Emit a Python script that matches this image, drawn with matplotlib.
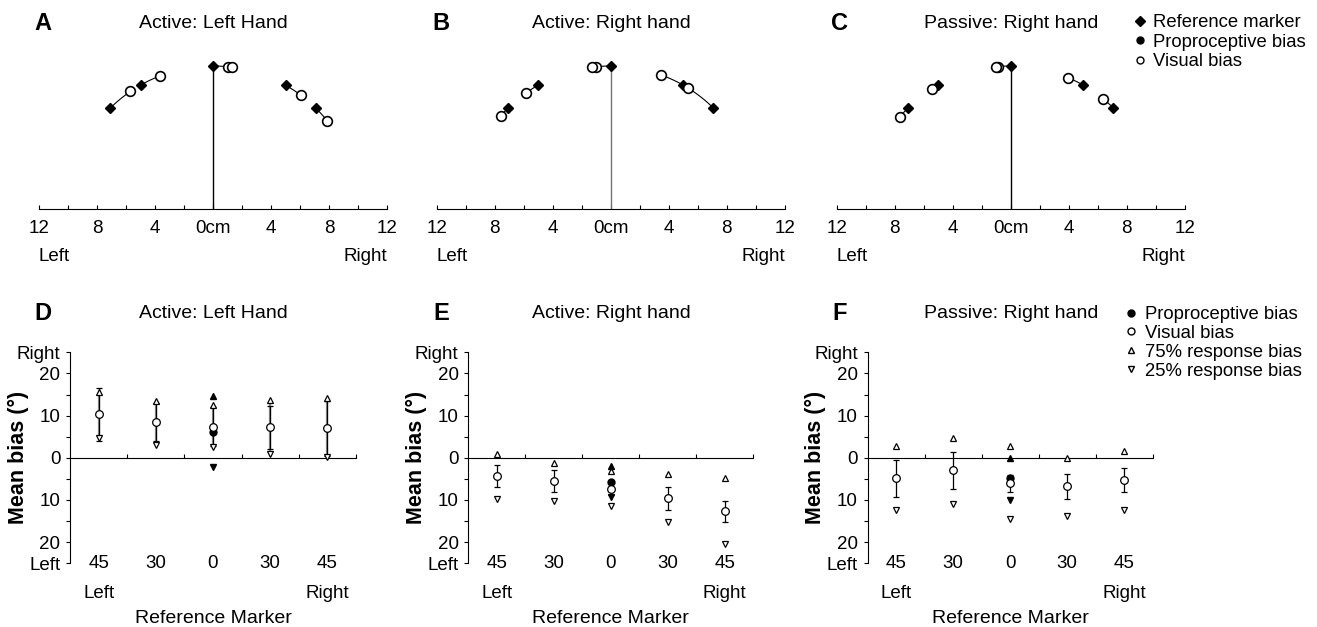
import numpy as np
import matplotlib
matplotlib.use('Agg')
import matplotlib.pyplot as plt
from matplotlib.lines import Line2D
from matplotlib.ticker import FixedLocator

plt.rcParams['font.family'] = ['Liberation Sans', 'DejaVu Sans']

# reference markers: angle from straight ahead (deg, negative = left)
marker_angle = [-45, -30, 0, 30, 45]
marker_label = ['45', '30', '0', '30', '45']
radius_cm = 10

panel_titles = ['Active: Left Hand', 'Active: Right hand', 'Passive: Right hand']

# active, left hand (deg, positive = right)
al_visual = [10.3, 8.4, 7.4, 7.2, 7.0]
al_visual_err = [6.3, 4.5, 4.6, 5.1, 6.5]
al_q75 = [15.7, 13.5, 12.4, 13.7, 14.1]
al_q25 = [4.8, 3.0, 2.5, 0.8, 0.2]
al_prop, al_prop_q75, al_prop_q25 = 6.0, 14.7, -2.2

# active, right hand
ar_visual = [-4.4, -5.5, -7.3, -9.6, -12.7]
ar_visual_err = [2.6, 2.5, 1.6, 2.7, 2.4]
ar_q75 = [1.0, -1.2, -3.1, -3.9, -4.9]
ar_q25 = [-9.7, -10.3, -11.4, -15.1, -20.5]
ar_prop, ar_prop_q75, ar_prop_q25 = -5.7, -2.0, -9.2

# passive, right hand
pr_visual = [-4.9, -3.0, -6.0, -6.8, -5.3]
pr_visual_err = [4.4, 4.4, 2.0, 3.0, 2.9]
pr_q75 = [2.7, 4.7, 2.7, 0.0, 1.6]
pr_q25 = [-12.4, -11.0, -14.5, -13.7, -12.4]
pr_prop, pr_prop_q75, pr_prop_q25 = -4.9, 0.0, -10.0

conditions = [
    (al_visual, al_visual_err, al_q75, al_q25, al_prop, al_prop_q75, al_prop_q25),
    (ar_visual, ar_visual_err, ar_q75, ar_q25, ar_prop, ar_prop_q75, ar_prop_q25),
    (pr_visual, pr_visual_err, pr_q75, pr_q25, pr_prop, pr_prop_q75, pr_prop_q25),
]

W, H = 1317, 627
fig = plt.figure(figsize=(W / 100, H / 100), dpi=100)


def px_axes(left, top, width, height):
    return fig.add_axes([left / W, (H - top - height) / H, width / W, height / H])


def on_circle(angle_deg):
    a = np.radians(angle_deg)
    return radius_cm * np.sin(a), radius_cm * np.cos(a)


def draw_top(ax, visual, prop, stem_color):
    centre = marker_angle.index(0)
    ax.vlines(0, 0, radius_cm, color=stem_color, lw=1)
    vis_angle = np.add(marker_angle, visual)
    # short arcs from each marker to the perceived position
    for a0, a1 in zip(marker_angle, vis_angle):
        ax.plot(*on_circle(np.linspace(a0, a1, 20)), color='k', lw=0.8, zorder=2)
    mx, my = on_circle(np.array(marker_angle))
    ax.plot(mx, my, 'D', color='k', ms=5, zorder=3)
    px_, py_ = on_circle(marker_angle[centre] + prop)
    ax.plot(px_, py_, 'o', mfc='white', mec='k', ms=7, mew=1.2, zorder=4)
    vx, vy = on_circle(vis_angle)
    ax.plot(vx, vy, 'o', mfc='white', mec='k', ms=7, mew=1.2, zorder=5)

    ax.set_xlim(-12, 12)
    ax.set_ylim(0, 11)
    for s in ['left', 'right', 'top']:
        ax.spines[s].set_visible(False)
    ax.set_yticks([])
    ax.set_xticks([-12, -8, -4, 0, 4, 8, 12])
    ax.set_xticklabels(['12', '8', '4', '0cm', '4', '8', '12'])
    ax.xaxis.set_minor_locator(FixedLocator(np.arange(-12, 13, 2)))
    ax.tick_params(axis='x', which='both', direction='in', length=3, width=0.8,
                   labelsize=13.5, pad=8)
    ax.text(0, -0.33, 'Left', transform=ax.transAxes, ha='left', va='baseline', fontsize=13.5)
    ax.text(1, -0.33, 'Right', transform=ax.transAxes, ha='right', va='baseline', fontsize=13.5)


def draw_bottom(ax, visual, err, q75, q25, prop, prop_q75, prop_q25, range_lines):
    x = np.arange(len(marker_angle))
    c = marker_angle.index(0)
    if range_lines:
        ax.vlines(x, q25, q75, color='0.55', lw=1.6, zorder=1)
    ax.errorbar(x, visual, yerr=err, fmt='none', ecolor='k', elinewidth=0.9,
                capsize=2.5, capthick=0.9, zorder=2)
    ax.plot(x, q75, '^', mfc='white', mec='k', ms=5, mew=0.9, zorder=3)
    ax.plot(x, q25, 'v', mfc='white', mec='k', ms=5, mew=0.9, zorder=3)
    ax.plot(x[c], prop_q75, '^', color='k', ms=5, zorder=3)
    ax.plot(x[c], prop_q25, 'v', color='k', ms=5, zorder=3)
    ax.plot(x[c], prop, 'o', color='k', ms=5, zorder=4)
    ax.plot(x, visual, 'o', mfc='white', mec='k', ms=5.5, mew=0.9, zorder=5)

    ax.set_xlim(-0.5, 4.5)
    ax.set_ylim(-25, 25)
    ax.spines['top'].set_visible(False)
    ax.spines['right'].set_visible(False)
    ax.spines['bottom'].set_position(('data', 0))
    ax.set_xticks(x + 0.5)
    ax.set_xticklabels([])
    ax.tick_params(axis='x', direction='in', length=3, width=0.8)
    ax.set_yticks([-25, -20, -10, 0, 10, 20, 25])
    ax.set_yticklabels(['Left', '20', '10', '0', '10', '20', 'Right'])
    ax.yaxis.set_minor_locator(FixedLocator([-15, -5, 5, 15]))
    ax.tick_params(axis='y', which='both', direction='out', length=3, width=0.8,
                   labelsize=13.5, pad=4)
    xt = ax.get_xaxis_transform()
    for xi, lab in zip(x, marker_label):
        ax.text(xi, -0.024, lab, transform=xt, ha='center', va='baseline', fontsize=13.5)
    ax.text(x[0], -0.166, 'Left', transform=xt, ha='center', va='baseline', fontsize=13.5)
    ax.text(x[-1], -0.166, 'Right', transform=xt, ha='center', va='baseline', fontsize=13.5)
    ax.text(0.5, -0.284, 'Reference Marker', transform=ax.transAxes, ha='center',
            va='baseline', fontsize=14)
    ax.set_ylabel('Mean bias (°)', fontsize=15.5, fontweight='bold')
    ax.yaxis.set_label_coords(-0.145, 0.5)


top_left = [39, 436.7, 836.7]
bottom_left = [70, 468.3, 867.7]
stem_colors = ['k', '0.45', 'k']
letters_top = ['A', 'B', 'C']
letters_bottom = ['D', 'E', 'F']
letter_x = [42.5, 441, 840]
title_x = [213.5, 611.3, 1010.8]

for i, cond in enumerate(conditions):
    visual, err, q75, q25, prop, prop_q75, prop_q25 = cond
    ax_t = px_axes(top_left[i], 51.7, 348, 157.3)
    draw_top(ax_t, visual, prop, stem_colors[i])
    ax_b = px_axes(bottom_left[i], 352.3, 286 if i == 0 else 285, 211)
    draw_bottom(ax_b, visual, err, q75, q25, prop, prop_q75, prop_q25, range_lines=(i == 0))

    fig.text(letter_x[i] / W, 1 - 24 / H, letters_top[i], ha='center', va='center',
             fontsize=17, fontweight='bold')
    fig.text(letter_x[i] / W, 1 - 314 / H, letters_bottom[i], ha='center', va='center',
             fontsize=17, fontweight='bold')
    fig.text(title_x[i] / W, 1 - 23 / H, panel_titles[i], ha='center', va='center', fontsize=14)
    fig.text(title_x[i] / W, 1 - 314 / H, panel_titles[i], ha='center', va='center', fontsize=14)

# legends
h_ref = Line2D([], [], ls='none', marker='D', color='k', ms=5)
h_prop = Line2D([], [], ls='none', marker='o', color='k', ms=5)
h_vis = Line2D([], [], ls='none', marker='o', mfc='white', mec='k', ms=5)
h_q75 = Line2D([], [], ls='none', marker='^', mfc='white', mec='k', ms=5)
h_q25 = Line2D([], [], ls='none', marker='v', mfc='white', mec='k', ms=5)

fig.legend([h_ref, h_prop, h_vis], ['Reference marker', 'Proproceptive bias', 'Visual bias'],
           loc='upper left', bbox_to_anchor=(1133 / W, 1 - 14 / H), frameon=False,
           fontsize=13.3, handlelength=0.8, handletextpad=0.3, borderpad=0,
           borderaxespad=0, labelspacing=0.14, numpoints=1)
fig.legend([h_prop, h_vis, h_q75, h_q25],
           ['Proproceptive bias', 'Visual bias', '75% response bias', '25% response bias'],
           loc='upper left', bbox_to_anchor=(1124 / W, 1 - 306 / H), frameon=False,
           fontsize=13.3, handlelength=0.8, handletextpad=0.32, borderpad=0,
           borderaxespad=0, labelspacing=0.1, numpoints=1)

fig.savefig('out.png', dpi=100)
